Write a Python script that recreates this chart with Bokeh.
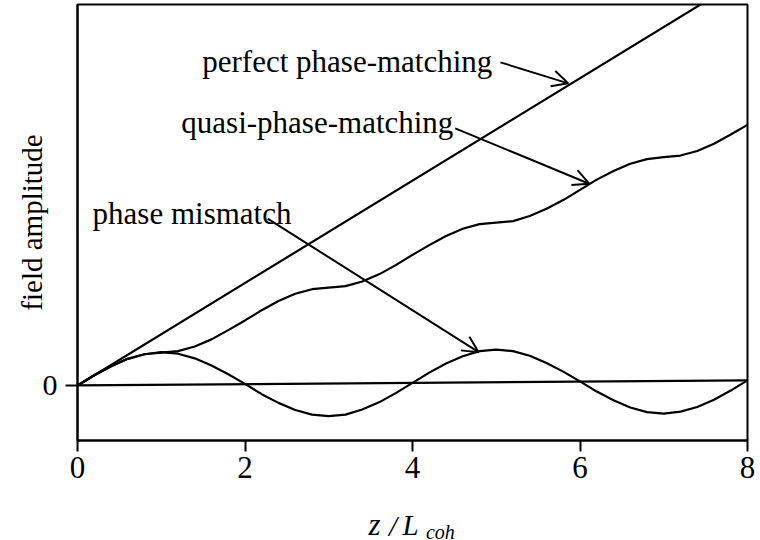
from bokeh.plotting import figure
from bokeh.layouts import column
from bokeh.models import Range1d, FixedTicker, Label, Arrow, OpenHead
from bokeh.core.properties import value
from bokeh.embed import file_html
from bokeh.resources import INLINE

# propagation distance in units of the coherence length
z = [0.0, 0.2, 0.4, 0.6, 0.8, 1.0, 1.2, 1.4, 1.6, 1.8,
     2.0, 2.2, 2.4, 2.6, 2.8, 3.0, 3.2, 3.4, 3.6, 3.8,
     4.0, 4.2, 4.4, 4.6, 4.8, 5.0, 5.2, 5.4, 5.6, 5.8,
     6.0, 6.2, 6.4, 6.6, 6.8, 7.0, 7.2, 7.4, 7.6, 7.8, 8.0]

# field amplitude with a phase mismatch (oscillates, never grows)
phase_mismatch = [0.00, 0.20, 0.38, 0.52, 0.61, 0.65, 0.62, 0.53, 0.39, 0.22,
                  0.03, -0.17, -0.34, -0.48, -0.57, -0.60, -0.57, -0.47, -0.33, -0.15,
                  0.05, 0.25, 0.43, 0.57, 0.67, 0.70, 0.67, 0.58, 0.44, 0.27,
                  0.08, -0.12, -0.29, -0.43, -0.52, -0.55, -0.51, -0.42, -0.28, -0.10,
                  0.10]

# field amplitude with quasi-phase-matching (stepwise growth)
quasi_phase_matching = [0.00, 0.20, 0.37, 0.52, 0.61, 0.64, 0.67, 0.76, 0.90, 1.08,
                        1.27, 1.47, 1.65, 1.79, 1.88, 1.91, 1.94, 2.03, 2.17, 2.35,
                        2.55, 2.74, 2.92, 3.06, 3.15, 3.18, 3.21, 3.31, 3.45, 3.62,
                        3.82, 4.02, 4.19, 4.33, 4.42, 4.46, 4.49, 4.58, 4.72, 4.90,
                        5.09]

# perfect phase-matching: linear growth
perfect_z = [0.0, 8.0]
perfect_amp = [0.0, 8.0]

# zero-amplitude reference line
baseline_z = [0.0, 8.0]
baseline_amp = [0.0, 0.1]

x_ticks = [0, 2, 4, 6, 8]
y_ticks = [0]

SERIF = "Liberation Serif"

x_range = Range1d(0, 8)

p = figure(width=760, height=492,
           x_range=x_range, y_range=Range1d(-1.075, 7.44),
           output_backend="svg", toolbar_location=None,
           min_border_left=77, min_border_right=13,
           min_border_top=4, min_border_bottom=52)

p.background_fill_color = "white"
p.border_fill_color = "white"
p.outline_line_color = "black"
p.outline_line_width = 2
p.xgrid.visible = False
p.ygrid.visible = False

# x axis
p.xaxis.ticker = FixedTicker(ticks=x_ticks)
p.xaxis.axis_line_width = 2
p.xaxis.major_tick_line_width = 2
p.xaxis.major_tick_out = 11
p.xaxis.major_tick_in = 0
p.xaxis.minor_tick_line_color = None
p.xaxis.major_label_text_font = SERIF
p.xaxis.major_label_text_font_size = "31px"
p.xaxis.major_label_text_color = "black"
p.xaxis.major_label_standoff = 5

# y axis: only the zero tick, plus the title
p.yaxis.ticker = FixedTicker(ticks=y_ticks)
p.yaxis.axis_line_width = 2
p.yaxis.major_tick_line_width = 2
p.yaxis.major_tick_out = 12
p.yaxis.major_tick_in = 0
p.yaxis.minor_tick_line_color = None
p.yaxis.major_label_text_font = SERIF
p.yaxis.major_label_text_font_size = "30px"
p.yaxis.major_label_text_color = "black"
p.yaxis.major_label_standoff = 8
p.yaxis.axis_label = "field amplitude"
p.yaxis.axis_label_text_font = SERIF
p.yaxis.axis_label_text_font_style = "normal"
p.yaxis.axis_label_text_font_size = "29px"
p.yaxis.axis_label_text_color = "black"
p.yaxis.axis_label_standoff = -8

# curves
p.line(baseline_z, baseline_amp, line_color="black", line_width=2.2)
p.line(perfect_z, perfect_amp, line_color="black", line_width=2.2)
p.line(z, quasi_phase_matching, line_color="black", line_width=2.2)
p.line(z, phase_mismatch, line_color="black", line_width=2.2)

# curve annotations with arrows
annotations = [
    ("perfect phase-matching", 1.49, 6.33, (5.05, 6.31, 5.86, 5.90)),
    ("quasi-phase-matching", 1.24, 5.14, (4.51, 5.02, 6.11, 3.94)),
    ("phase mismatch", 0.18, 3.36, (2.27, 3.26, 4.79, 0.65)),
]
for text, tx, ty, (xs, ys, xe, ye) in annotations:
    p.add_layout(Label(x=tx, y=ty, text=text, text_align="left",
                       text_baseline="alphabetic", text_font=SERIF,
                       text_font_size="31px", text_color="black"))
    p.add_layout(Arrow(end=OpenHead(size=16, line_width=2, line_color="black"),
                       x_start=xs, y_start=ys, x_end=xe, y_end=ye,
                       line_width=2, line_color="black"))

# strip below the plot holding the x axis title  z / L_coh
# (its frame lines up with the plot frame, so it shares the x range)
title_strip = figure(width=760, height=48,
                     x_range=x_range, y_range=Range1d(48, 0),
                     x_axis_type=None, y_axis_type=None,
                     output_backend="svg", toolbar_location=None,
                     min_border=0, min_border_left=77, min_border_right=13,
                     min_border_top=0, min_border_bottom=0)
title_strip.grid.visible = False
title_strip.outline_line_color = None
title_strip.background_fill_color = "white"
title_strip.border_fill_color = "white"

title_parts = ["z", "/", "L", "coh"]
title_x = [3.475, 3.72, 3.88, 4.16]
title_y = [32, 33, 32, 39]
title_sizes = ["31px", "29px", "29px", "20px"]
title_styles = ["italic", "italic", "italic", "italic"]
for part, tx, ty, size, style in zip(title_parts, title_x, title_y, title_sizes, title_styles):
    title_strip.text(x=[tx], y=[ty], text=[part], text_font=value(SERIF),
                     text_font_size=value(size), text_font_style=style,
                     text_align="left", text_baseline="alphabetic",
                     text_color="black")

layout = column(p, title_strip, spacing=0)
open("out.html", "w").write(file_html(layout, INLINE))
